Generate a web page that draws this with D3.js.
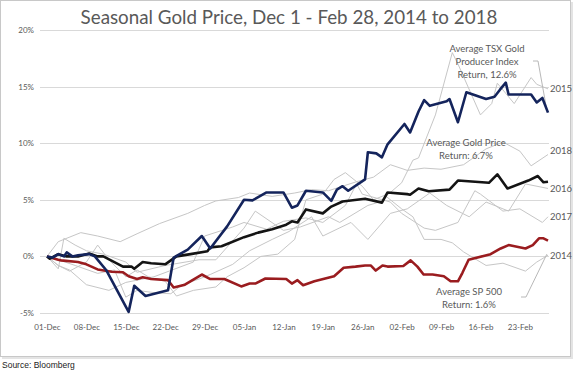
<!DOCTYPE html>
<html>
<head>
<meta charset="utf-8">
<script src="https://cdn.jsdelivr.net/npm/d3@7"></script>
<style>
  body { margin: 0; background: #fff; }
  svg { display: block; font-family: Lato, "Open Sans", sans-serif; }
</style>
</head>
<body>
<svg id="chart" width="576" height="372"></svg>
<script>
// day offsets from Dec 1, value = % change
var tickDays = [0, 7, 14, 21, 28, 35, 42, 49, 56, 63, 70, 77, 84];
var tickLabels = ["01-Dec", "08-Dec", "15-Dec", "22-Dec", "29-Dec", "05-Jan", "12-Jan",
                  "19-Jan", "26-Jan", "02-Feb", "09-Feb", "16-Feb", "23-Feb"];
var yTicks = [-5, 0, 5, 10, 15, 20];

var years = ["2014", "2015", "2016", "2017", "2018"];
var yearLabelValues = [0.1, 14.8, 6.0, 3.5, 9.3];

var g2014 = [[0,0],[2,-0.8],[4,-1.3],[7,-0.5],[9,1.0],[11,-0.3],[14,-1.8],[16,-1.2],[18,-1.8],[21,-2.2],[23,-3.5],[26,-3.0],[30,-2.7],[32,-1.8],[35,-1.0],[38,0.0],[41,0.2],[44,1.5],[46,5.0],[49,5.5],[51,6.8],[53,7.4],[54,7.0],[56,6.2],[58,5.0],[60,5.4],[63,4.2],[65,3.5],[67,1.5],[70,1.5],[72,1.2],[74,0.4],[78,-0.8],[81,-0.6],[85,-1.3],[87,-0.5],[89,0.1]];
var g2015 = [[0,0],[2,-1.1],[3,1.6],[5,1.0],[7,0.5],[10,0.2],[14,-0.5],[16,-1.4],[21,-0.8],[27,-0.3],[30,-0.3],[35,2.5],[37,4.0],[42,2.3],[45,2.6],[50,3.5],[52,3.0],[57,4.5],[59,4.8],[63,6.5],[65,8.5],[66,8.7],[69,12.5],[72,18.0],[73,17.0],[77,12.5],[79,13.5],[80,15.3],[83,13.5],[86,15.8],[87,15.2],[89,14.8]];
var g2016 = [[0,0],[2,-0.3],[5,-0.8],[9,-1.5],[12,-1.2],[14,-3.6],[16,-3.0],[19,-3.2],[22,-3.3],[24,-2.5],[27,-2.0],[29,-1.6],[33,-0.7],[36,0.5],[40,1.5],[43,2.2],[47,3.5],[49,1.8],[54,3.0],[57,1.5],[61,3.8],[64,4.2],[68,5.6],[71,4.5],[75,3.5],[78,4.8],[82,4.0],[85,6.4],[89,6.0]];
var g2017 = [[0,0],[2,-0.8],[4,-1.2],[7,-2.5],[11,-3.0],[14,-2.3],[19,-1.8],[26,-0.5],[28,1.8],[33,2.6],[35,3.0],[39,2.4],[42,3.1],[46,3.4],[49,3.0],[53,4.5],[55,6.4],[56,5.5],[61,4.8],[63,3.8],[67,2.5],[69,2.3],[73,3.0],[76,5.8],[77,5.5],[81,4.0],[84,4.2],[88,3.0],[89,3.5]];
var g2018 = [[0,0],[2,1.3],[6,2.1],[9,1.8],[13,1.3],[16,2.0],[20,2.9],[25,3.8],[28,4.5],[30,4.9],[34,5.2],[36,5.6],[40,5.3],[44,5.6],[47,5.9],[50,5.8],[55,6.6],[58,7.0],[61,8.1],[64,7.6],[67,7.8],[70,7.7],[74,8.1],[78,9.5],[81,10.1],[84,9.3],[86,8.0],[89,9.0]];

// TSX gold producer index average
var tsx = [[0,0],[1,-0.1],[2,0.2],[3,0],[3.5,0.35],[4.5,0],[5.5,0.1],[7.5,0.2],[8.5,0],[10.5,-1.2],[14.5,-4.9],[15.5,-2.6],[17.5,-3.5],[21.5,-3.0],[22.5,-0.1],[25,0.6],[27.5,1.8],[29,0.7],[32,2.65],[35,5.0],[36.5,4.95],[39,5.65],[42,5.65],[43.5,4.3],[44.5,4.5],[46,5.8],[49,5.65],[50.5,4.9],[51.5,5.9],[52.5,6.2],[53.5,5.8],[56.5,6.8],[57,9.2],[58.5,9.1],[59.5,8.75],[60.5,9.9],[63.5,11.7],[64.5,10.95],[66,12.8],[67,13.8],[68,13.3],[71,13.7],[71.5,13.9],[73,11.85],[74.5,14.5],[78,13.9],[79.5,14.1],[80.5,14.75],[81.5,15.35],[82,14.3],[86,14.3],[87,13.6],[88,14.0],[89,12.7]];
// gold price average
var gold = [[0,0],[0.5,-0.2],[2,0.2],[3.5,0],[5.5,0],[7.5,0.25],[9,0],[10,0],[13.5,-0.9],[15,-0.9],[15.5,-1.1],[17,-0.5],[18.5,-0.6],[21,-0.7],[23,0],[25.5,0.2],[28.5,0.45],[29,0.8],[31,0.9],[32,1.1],[35,1.7],[37.5,2.1],[40,2.4],[42.5,2.8],[43.5,3.1],[44.5,3.0],[46,4.15],[49,3.8],[50.5,4.4],[52.5,4.85],[56.5,5.1],[59.5,4.75],[60.5,5.65],[64,5.5],[64.5,5.45],[66,6.0],[67.8,5.75],[71.5,5.9],[73,6.7],[78.5,6.5],[80,7.25],[81.8,6.0],[85.5,6.7],[87.2,7.1],[88.2,6.55],[89,6.6]];
// SP 500 average
var sp500 = [[0,0],[2,-0.3],[2.5,-0.35],[5.5,-0.5],[7,-0.7],[9,-1.15],[11.5,-1.35],[13.5,-1.4],[14.5,-1.75],[16,-2.0],[17,-1.85],[18.5,-2.0],[21.5,-2.1],[22.5,-2.75],[24.5,-2.5],[27.5,-1.6],[29,-2.0],[31.5,-2.0],[34.5,-2.65],[36,-2.4],[37,-2.4],[38.8,-1.95],[42.5,-2.0],[43.5,-2.4],[44.5,-2.1],[45.5,-2.55],[47.5,-2.2],[51,-1.75],[52.7,-1.0],[54.8,-0.9],[56.5,-0.8],[57.5,-0.8],[58.4,-1.25],[59.6,-0.8],[60.5,-0.9],[63.3,-0.85],[64.6,-0.35],[65.8,-0.9],[66.9,-1.6],[68.5,-1.6],[70.5,-1.75],[71.7,-2.2],[73,-2.2],[73.8,-1.45],[74.9,-0.3],[78.8,0.2],[80.6,0.7],[82,1.0],[85,0.7],[86.3,1.0],[87.4,1.6],[88.2,1.6],[89,1.4]];

var svg = d3.select("#chart");

// frame with a soft shadow
svg.append("rect").attr("x", 2).attr("y", 2).attr("width", 571).attr("height", 357)
    .attr("fill", "#e4e4e4");
svg.append("rect").attr("x", 0.5).attr("y", 0.5).attr("width", 570).attr("height", 356)
    .attr("fill", "#fff").attr("stroke", "#c8c8c8");

var x = d3.scaleLinear().domain([0, 89]).range([47, 548]);
var y = d3.scaleLinear().domain([-5, 20]).range([313, 30]);

// gridlines
svg.append("g").selectAll("line")
    .data(yTicks)
    .enter()
    .append("line")
    .attr("x1", 40).attr("x2", 549)
    .attr("y1", d => Math.round(y(d)) + 0.5).attr("y2", d => Math.round(y(d)) + 0.5)
    .attr("stroke", "#d9d9d9").attr("stroke-width", 1);

// y axis
var yAxis = svg.append("g")
    .attr("transform", "translate(36,0)")
    .call(d3.axisLeft(y).tickValues(yTicks).tickSize(0).tickFormat(d => d + "%"));
yAxis.select(".domain").remove();
yAxis.selectAll("text").attr("fill", "#595959").attr("font-size", 8)
    .attr("font-family", "Lato, sans-serif").attr("dx", "1");

// x axis
var xAxis = svg.append("g")
    .attr("transform", "translate(0,320)")
    .call(d3.axisBottom(x).tickValues(tickDays).tickSize(0)
        .tickFormat((d, i) => tickLabels[i]));
xAxis.select(".domain").remove();
xAxis.selectAll("text").attr("fill", "#595959").attr("font-size", 8)
    .attr("font-family", "Lato, sans-serif").attr("dy", "0.9em");

var line = d3.line()
    .x(d => x(d[0]))
    .y(d => y(d[1]));

// yearly gold lines
var grey = [g2014, g2015, g2016, g2017, g2018];
svg.append("g").selectAll("path")
    .data(grey)
    .enter()
    .append("path")
    .attr("d", line)
    .attr("fill", "none")
    .attr("stroke", "#c6c6c6")
    .attr("stroke-width", 1);

// leader lines for the annotations
var leader = svg.append("g").attr("fill", "none").attr("stroke", "#b8b8b8").attr("stroke-width", 1);
leader.append("path")
    .attr("d", "M533," + 61 + "H538L" + x(88.8) + "," + y(12.9));
leader.append("path")
    .attr("d", "M521,297H526L" + x(88.8) + "," + y(0.2));

// averages
var bold = [
    { data: sp500, color: "#9a1c1f" },
    { data: gold, color: "#141414" },
    { data: tsx, color: "#14245c" }
];
svg.append("g").selectAll("path")
    .data(bold)
    .enter()
    .append("path")
    .attr("d", d => line(d.data))
    .attr("fill", "none")
    .attr("stroke", d => d.color)
    .attr("stroke-width", 2.6)
    .attr("stroke-linejoin", "round");

// year labels
svg.append("g").selectAll("text")
    .data(years)
    .enter()
    .append("text")
    .attr("x", 550)
    .attr("y", (d, i) => y(yearLabelValues[i]))
    .attr("dy", "0.35em")
    .attr("font-size", 9.5)
    .attr("fill", "#595959")
    .text(d => d);

// annotations
var notes = [
    { cx: 487, top: 52, lines: ["Average TSX Gold", "Producer Index", "Return, 12.6%"] },
    { cx: 466, top: 146, lines: ["Average Gold Price", "Return: 6.7%"] },
    { cx: 469, top: 295, lines: ["Average SP 500", "Return: 1.6%"] }
];
notes.forEach(function (n) {
    var t = svg.append("text")
        .attr("text-anchor", "middle")
        .attr("font-size", 9.5)
        .attr("fill", "#595959");
    n.lines.forEach(function (s, i) {
        t.append("tspan").attr("x", n.cx).attr("y", n.top + i * 13).text(s);
    });
});

// title
svg.append("text")
    .attr("x", 289).attr("y", 24)
    .attr("text-anchor", "middle")
    .attr("font-size", 18.8)
    .attr("fill", "#595959")
    .text("Seasonal Gold Price, Dec 1 - Feb 28, 2014 to 2018");

svg.append("text")
    .attr("x", 2).attr("y", 368)
    .attr("font-size", 8.5)
    .attr("font-family", "Liberation Sans, Arial, sans-serif")
    .attr("fill", "#222")
    .text("Source: Bloomberg");
</script>
</body>
</html>
